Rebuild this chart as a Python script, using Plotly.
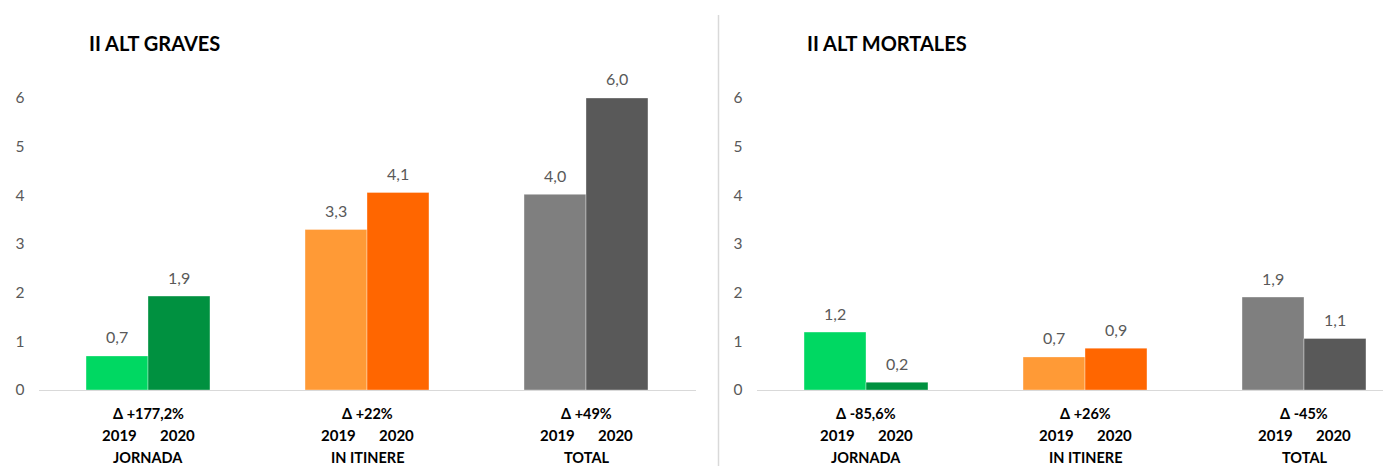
import plotly.graph_objects as go

categories = ["JORNADA", "IN ITINERE", "TOTAL"]
years = ["2019", "2020"]

graves_2019 = [0.70, 3.30, 4.02]
graves_2020 = [1.93, 4.06, 6.00]
mortales_2019 = [1.19, 0.68, 1.91]
mortales_2020 = [0.16, 0.86, 1.06]

deltas_graves = ["Δ +177,2%", "Δ +22%", "Δ +49%"]
deltas_mortales = ["Δ -85,6%", "Δ +26%", "Δ -45%"]

titles = ["II ALT GRAVES", "II ALT MORTALES"]
y_ticks = [0, 1, 2, 3, 4, 5, 6]

colors_2019 = ["#00D862", "#FF9A36", "#7F7F7F"]
colors_2020 = ["#009140", "#FF6600", "#595959"]

W, H = 1383, 466
FONT = "Lato"
GRAY = "#595959"


def fmt(v):
    return f"{v:.1f}".replace(".", ",")


fig = go.Figure()

panels = [
    ("x", "y", graves_2019, graves_2020, deltas_graves),
    ("x2", "y2", mortales_2019, mortales_2020, deltas_mortales),
]

annotations = []
for xa, ya, v19, v20, deltas in panels:
    for vals, cols, name in [(v19, colors_2019, years[0]), (v20, colors_2020, years[1])]:
        fig.add_trace(go.Bar(
            x=categories, y=vals, name=name, xaxis=xa, yaxis=ya,
            offsetgroup=name,
            marker=dict(color=cols, line=dict(color="rgba(255,255,255,0.35)", width=1)),
            showlegend=False, hoverinfo="skip",
        ))
    for i, c in enumerate(categories):
        for shift, vals in [(-31, v19), (31, v20)]:
            annotations.append(dict(
                x=c, y=vals[i], xref=xa, yref=ya, xshift=shift, yshift=19,
                text=fmt(vals[i]), showarrow=False, yanchor="middle",
                font=dict(family=FONT, size=16, color=GRAY)))
        annotations.append(dict(
            x=c, y=0, xref=xa, yref=ya, yshift=-23, text="<b>%s</b>" % deltas[i],
            showarrow=False, yanchor="middle",
            font=dict(family=FONT, size=14.5, color="#000000")))
        for shift, yr in [(-29, years[0]), (29, years[1])]:
            annotations.append(dict(
                x=c, y=0, xref=xa, yref=ya, xshift=shift, yshift=-45,
                text="<b>%s</b>" % yr, showarrow=False, yanchor="middle",
                font=dict(family=FONT, size=15, color="#000000")))
        annotations.append(dict(
            x=c, y=0, xref=xa, yref=ya, yshift=-67, text="<b>%s</b>" % c,
            showarrow=False, yanchor="middle", borderpad=0,
            font=dict(family=FONT, size=14.5, color="#000000")))

annotations.append(dict(x=87 / W, y=1 - 43 / H, xref="paper", yref="paper",
                        xanchor="left", yanchor="middle", showarrow=False,
                        text="<b>%s</b>" % titles[0],
                        font=dict(family=FONT, size=20, color="#000000")))
annotations.append(dict(x=805 / W, y=1 - 43 / H, xref="paper", yref="paper",
                        xanchor="left", yanchor="middle", showarrow=False,
                        text="<b>%s</b>" % titles[1],
                        font=dict(family=FONT, size=20, color="#000000")))

y_dom = [(H - 390) / H, (H - (390 - 7 * 48.67)) / H]
yaxis_common = dict(range=[0, 7], domain=y_dom, tickvals=y_ticks,
                    showgrid=False, zeroline=False, showline=False,
                    ticklabelstandoff=13,
                    tickfont=dict(family=FONT, size=15.5, color=GRAY))
xaxis_common = dict(showticklabels=False, showgrid=False, zeroline=False,
                    showline=True, linecolor="#D9D9D9", linewidth=1, ticks="")

right_end = (W - 756.5) / 219 - 0.5

fig.update_layout(
    width=W, height=H,
    margin=dict(l=0, r=0, t=0, b=0, autoexpand=False),
    paper_bgcolor="white", plot_bgcolor="white",
    barmode="group", bargap=0.434, bargroupgap=0,
    xaxis=dict(domain=[38.5 / W, 695.5 / W], range=[-0.5, 2.5], anchor="y", **xaxis_common),
    xaxis2=dict(domain=[756.5 / W, 1.0], range=[-0.5, right_end], anchor="y2", **xaxis_common),
    yaxis=dict(anchor="x", **yaxis_common),
    yaxis2=dict(anchor="x2", **yaxis_common),
    annotations=annotations,
    shapes=[dict(type="line", xref="paper", yref="paper",
                 x0=718.5 / W, x1=718.5 / W, y0=0, y1=1 - 15 / H,
                 line=dict(color="#D9D9D9", width=1.5))],
)

fig.write_html(
    "out.html",
    post_script="document.body.style.margin='0';document.body.style.overflow='hidden';",
    config={"displayModeBar": False},
)
